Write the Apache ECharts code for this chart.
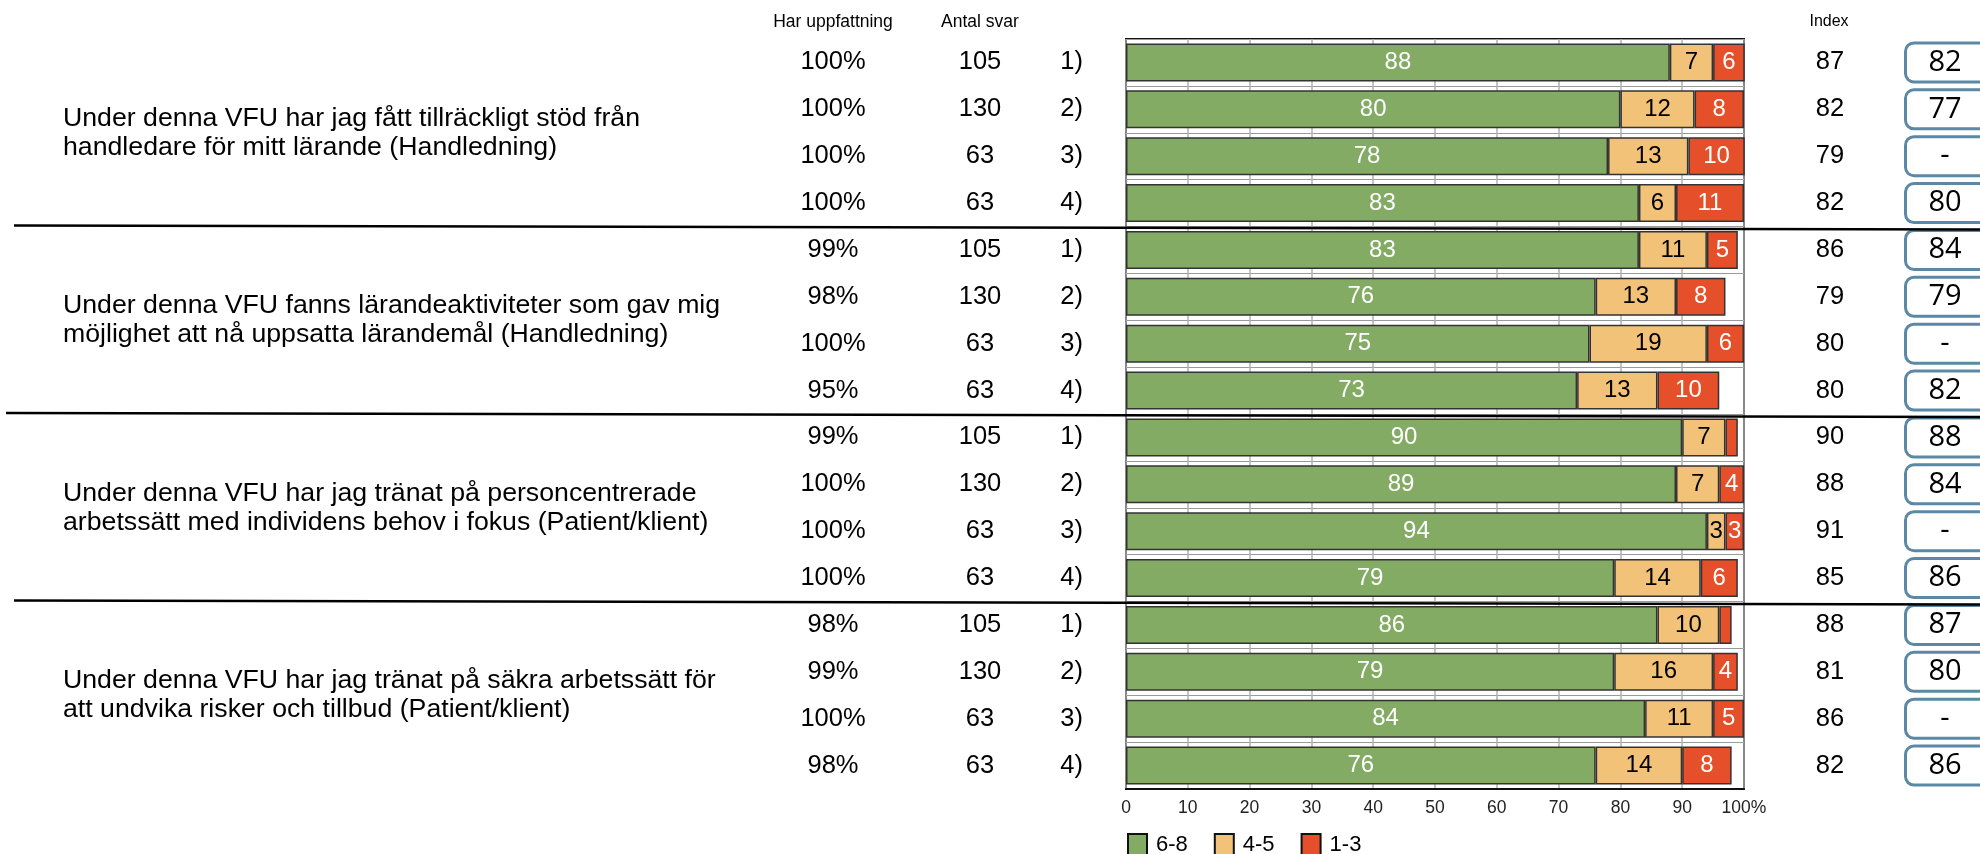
<!DOCTYPE html>
<html>
<head>
<meta charset="utf-8">
<script src="https://cdn.jsdelivr.net/npm/echarts@6/dist/echarts.min.js"></script>
<style>
  html, body { margin: 0; padding: 0; background: #fff; }
  #chart { width: 1980px; height: 854px; }
</style>
</head>
<body>
<div id="chart"></div>
<script>
// Survey statements, one per group of four rows
const questions = [
  'Under denna VFU har jag fått tillräckligt stöd från\nhandledare för mitt lärande (Handledning)',
  'Under denna VFU fanns lärandeaktiviteter som gav mig\nmöjlighet att nå uppsatta lärandemål (Handledning)',
  'Under denna VFU har jag tränat på personcentrerade\narbetssätt med individens behov i fokus (Patient/klient)',
  'Under denna VFU har jag tränat på säkra arbetssätt för\natt undvika risker och tillbud (Patient/klient)'
];
const rowLabels = ['1)', '2)', '3)', '4)', '1)', '2)', '3)', '4)', '1)', '2)', '3)', '4)', '1)', '2)', '3)', '4)'];
const harUppfattning = [100, 100, 100, 100, 99, 98, 100, 95, 99, 100, 100, 100, 98, 99, 100, 98];
const antalSvar = [105, 130, 63, 63, 105, 130, 63, 63, 105, 130, 63, 63, 105, 130, 63, 63];

// Share of answers per grade band (%)
const high = [88, 80, 78, 83, 83, 76, 75, 73, 90, 89, 94, 79, 86, 79, 84, 76];   // 6-8
const mid  = [7, 12, 13, 6, 11, 13, 19, 13, 7, 7, 3, 14, 10, 16, 11, 14];        // 4-5
const low  = [6, 8, 10, 11, 5, 8, 6, 10, 2, 4, 3, 6, 2, 4, 5, 8];                // 1-3

const indexValues = [87, 82, 79, 82, 86, 79, 80, 80, 90, 88, 91, 85, 88, 81, 86, 82];
const earlierIndex = [82, 77, null, 80, 84, 79, null, 82, 88, 84, null, 86, 87, 80, null, 86];

const xTicks = [0, 10, 20, 30, 40, 50, 60, 70, 80, 90, 100];
const legendNames = ['6-8', '4-5', '1-3'];

const rowIds = rowLabels.map((r, i) => 'r' + i);
const FONT = 'Liberation Sans, Arial, sans-serif';
const colors = ['#83ab64', '#f1c277', '#e5502a'];

const chart = echarts.init(document.getElementById('chart'), null, { renderer: 'canvas' });

function sideAxis(position, labels, margin, align, extra) {
  return Object.assign({
    type: 'category',
    data: rowIds,
    inverse: true,
    position: position,
    gridIndex: 0,
    axisLine: { show: false },
    axisTick: { show: false },
    splitLine: { show: false },
    axisLabel: {
      interval: 0,
      margin: margin,
      align: align,
      fontFamily: FONT,
      fontSize: 25.5,
      color: '#000',
      formatter: (v, i) => labels[i]
    }
  }, extra || {});
}

function barSeries(name, values, color, labelColor) {
  return {
    name: name,
    type: 'bar',
    stack: 'total',
    barWidth: 38,
    xAxisIndex: 0,
    yAxisIndex: 0,
    data: values,
    itemStyle: { color: color, borderColor: '#333', borderWidth: 1.5 },
    label: {
      show: true,
      position: 'inside',
      fontFamily: FONT,
      fontSize: 24,
      color: labelColor,
      formatter: p => (p.value >= 3 ? String(p.value) : '')
    }
  };
}

const option = {
  backgroundColor: '#fff',
  animation: false,
  grid: {
    left: 1126, right: 236, top: 39, bottom: 65,
    outerBoundsMode: 'none', containLabel: false,
    show: true, borderColor: '#111', borderWidth: 2, backgroundColor: '#fff'
  },
  legend: {
    data: legendNames,
    left: 1122, top: 828,
    icon: 'rect',
    itemWidth: 19, itemHeight: 22, itemGap: 26,
    itemStyle: { borderColor: '#111', borderWidth: 2 },
    textStyle: { fontFamily: FONT, fontSize: 22, color: '#000', padding: [0, 0, 0, 4] }
  },
  xAxis: {
    type: 'value',
    min: 0, max: 100, interval: 10,
    axisLine: { show: true, lineStyle: { color: '#111', width: 2 } },
    axisTick: { show: false },
    splitLine: { show: true, lineStyle: { color: '#b0b0b0', width: 1.5 } },
    axisLabel: {
      margin: 10,
      fontFamily: FONT, fontSize: 17.5, color: '#222',
      formatter: v => (xTicks.indexOf(v) === xTicks.length - 1 ? v + '%' : String(v))
    }
  },
  yAxis: [
    {
      type: 'category', data: rowIds, inverse: true,
      axisLine: { show: false }, axisTick: { show: false },
      axisLabel: { show: false },
      splitLine: { show: true, interval: 0, lineStyle: { color: '#9a9a9a', width: 1 } }
    },
    sideAxis('left', rowLabels, 43, 'right'),
    sideAxis('left', antalSvar.map(String), 146, 'center'),
    sideAxis('left', harUppfattning.map(v => v + '%'), 293, 'center'),
    sideAxis('right', indexValues.map(String), 86, 'center'),
    sideAxis('right', earlierIndex.map(v => (v == null ? '-' : String(v))), 163, 'left', {
      axisLabel: {
        interval: 0, margin: 163, align: 'left',
        formatter: (v, i) => '{box|' + (earlierIndex[i] == null ? '-' : earlierIndex[i]) + '}',
        rich: {
          box: {
            fontFamily: 'Open Sans, Noto Sans, sans-serif',
            fontSize: 29, color: '#000',
            width: 76, height: 36, lineHeight: 36,
            align: 'center',
            padding: [0, 12, 0, 0],
            borderColor: '#5b88a4', borderWidth: 3, borderRadius: 7,
            backgroundColor: '#fff'
          }
        }
      }
    }),
    {
      type: 'category', data: questions, inverse: true, position: 'left',
      axisLine: { show: false }, axisTick: { show: false }, splitLine: { show: false },
      axisLabel: {
        interval: 0, margin: 1063, align: 'left',
        fontFamily: FONT, fontSize: 26.7, lineHeight: 29, color: '#000',
        padding: [19, 0, 0, 0]
      }
    }
  ],
  series: [
    barSeries(legendNames[0], high, colors[0], '#fff'),
    barSeries(legendNames[1], mid, colors[1], '#000'),
    barSeries(legendNames[2], low, colors[2], '#fff')
  ]
};

chart.setOption(option);

// Header texts over the side columns and thick rules between statement groups
const qAxis = 6;
const groupY = questions.map(q => chart.convertToPixel({ yAxisIndex: qAxis }, q));
const rules = [];
for (let g = 0; g < questions.length - 1; g++) {
  const y = (groupY[g] + groupY[g + 1]) / 2;
  rules.push({
    type: 'line', z: 100,
    shape: { x1: g === 1 ? 6 : 14, y1: y - 1, x2: 1980, y2: y + 3 },
    style: { stroke: '#000', lineWidth: 2.5 }
  });
}
const headers = [
  { text: 'Har uppfattning', x: 833, size: 17.5 },
  { text: 'Antal svar', x: 980, size: 17.5 },
  { text: 'Index', x: 1829, size: 16 }
].map(h => ({
  type: 'text', x: h.x, y: 22,
  style: {
    text: h.text, fontFamily: FONT, fontSize: h.size, fill: '#000',
    textAlign: 'center', textVerticalAlign: 'middle'
  }
}));
chart.setOption({ graphic: rules.concat(headers) });
</script>
</body>
</html>
